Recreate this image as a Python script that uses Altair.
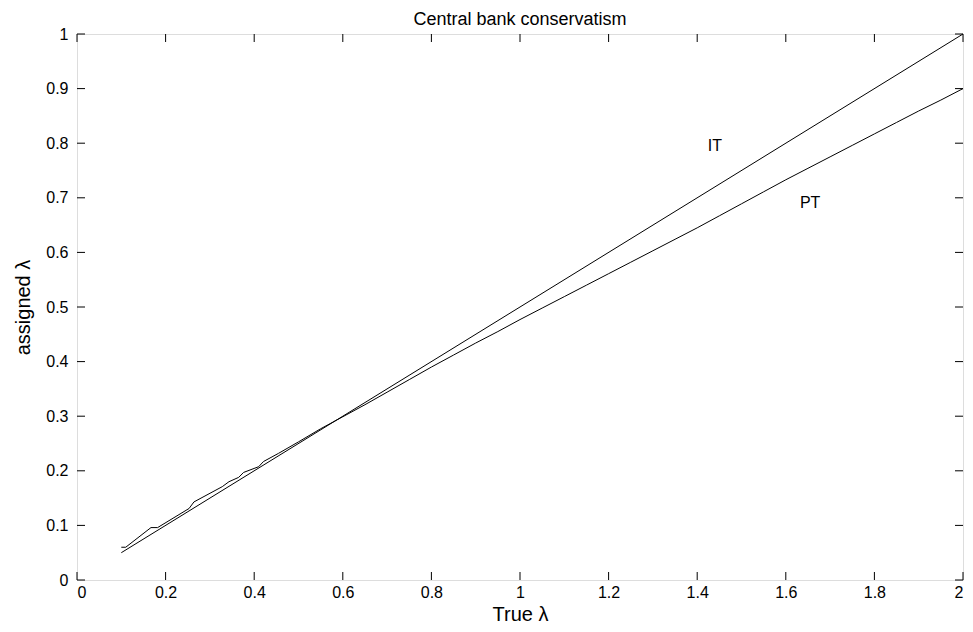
import altair as alt
import pandas as pd

# ---- data ----
it_x = [0.10, 2.00]
it_y = [0.05, 1.00]

pt_x = [0.10, 0.11, 0.167, 0.182, 0.253, 0.264, 0.328, 0.343, 0.365, 0.376,
        0.41, 0.421, 0.455, 0.50, 0.55, 0.60, 0.65, 0.70, 0.75, 0.80,
        0.85, 0.90, 0.95, 1.00, 1.05, 1.10, 1.15, 1.20, 1.25, 1.30,
        1.35, 1.40, 1.45, 1.50, 1.55, 1.60, 1.65, 1.70, 1.75, 1.80,
        1.85, 1.90, 1.95, 2.00]
pt_y = [0.060, 0.060, 0.096, 0.096, 0.131, 0.143, 0.171, 0.180, 0.188, 0.197,
        0.2075, 0.217, 0.232, 0.253, 0.277, 0.299, 0.321, 0.344, 0.367, 0.390,
        0.412, 0.434, 0.455, 0.477, 0.498, 0.519, 0.540, 0.561, 0.582, 0.603,
        0.624, 0.645, 0.667, 0.689, 0.711, 0.733, 0.754, 0.775, 0.796, 0.817,
        0.838, 0.859, 0.879, 0.900]

x_ticks = [0, 0.2, 0.4, 0.6, 0.8, 1.0, 1.2, 1.4, 1.6, 1.8, 2.0]
y_ticks = [0, 0.1, 0.2, 0.3, 0.4, 0.5, 0.6, 0.7, 0.8, 0.9, 1.0]

label_text = ["IT", "PT"]
label_x = [1.44, 1.655]
label_y = [0.795, 0.69]

W, H = 886, 546
TL = 8
FONT = "Liberation Sans"

lines_df = pd.DataFrame(
    [{"series": "IT", "x": a, "y": b} for a, b in zip(it_x, it_y)]
    + [{"series": "PT", "x": a, "y": b} for a, b in zip(pt_x, pt_y)]
)
labels_df = pd.DataFrame({"text": label_text, "x": label_x, "y": label_y})
xt_df = pd.DataFrame({"v": x_ticks})
yt_df = pd.DataFrame({"v": y_ticks})

xscale = alt.Scale(domain=[0, 2], nice=False, zero=False)
yscale = alt.Scale(domain=[0, 1], nice=False, zero=False)

xaxis = alt.Axis(values=x_ticks, format="~g", ticks=False, domain=False, grid=False,
                 labelPadding=4, labelFontSize=16, labelFont=FONT, labelColor="black",
                 title="True λ", titleFontSize=20, titleFont=FONT, titleFontWeight="normal",
                 titleColor="black", titlePadding=4)
yaxis = alt.Axis(values=y_ticks, format="~g", ticks=False, domain=False, grid=False,
                 labelPadding=9, labelFontSize=16, labelFont=FONT, labelColor="black",
                 title="assigned λ", titleFontSize=20, titleFont=FONT, titleFontWeight="normal",
                 titleColor="black", titlePadding=12)

lines = alt.Chart(lines_df).mark_line(color="black", strokeWidth=1).encode(
    x=alt.X("x:Q", scale=xscale, axis=xaxis),
    y=alt.Y("y:Q", scale=yscale, axis=yaxis),
    detail="series:N",
    order="x:Q",
)

texts = alt.Chart(labels_df).mark_text(font=FONT, fontSize=16, color="black").encode(
    x=alt.X("x:Q", scale=xscale),
    y=alt.Y("y:Q", scale=yscale),
    text="text:N",
)

tick_style = dict(color="black", strokeWidth=1)
bottom_ticks = alt.Chart(xt_df).mark_rule(**tick_style).encode(
    x=alt.X("v:Q", scale=xscale), y=alt.value(H), y2=alt.value(H - TL))
top_ticks = alt.Chart(xt_df).mark_rule(**tick_style).encode(
    x=alt.X("v:Q", scale=xscale), y=alt.value(0), y2=alt.value(TL))
left_ticks = alt.Chart(yt_df).mark_rule(**tick_style).encode(
    y=alt.Y("v:Q", scale=yscale), x=alt.value(0), x2=alt.value(TL))
right_ticks = alt.Chart(yt_df).mark_rule(**tick_style).encode(
    y=alt.Y("v:Q", scale=yscale), x=alt.value(W), x2=alt.value(W - TL))

chart = alt.layer(lines, texts, bottom_ticks, top_ticks, left_ticks, right_ticks).properties(
    width=W, height=H,
    title=alt.TitleParams("Central bank conservatism", fontSize=18, font=FONT,
                          fontWeight="normal", color="black", offset=-3, anchor="middle"),
    autosize=alt.AutoSizeParams(type="none"),
    padding={"left": 69, "top": 26, "right": 2, "bottom": 44},
).configure_view(stroke="black", strokeWidth=1).configure(background="white")

chart.save("out.html", embed_options={"renderer": "svg", "actions": False})
